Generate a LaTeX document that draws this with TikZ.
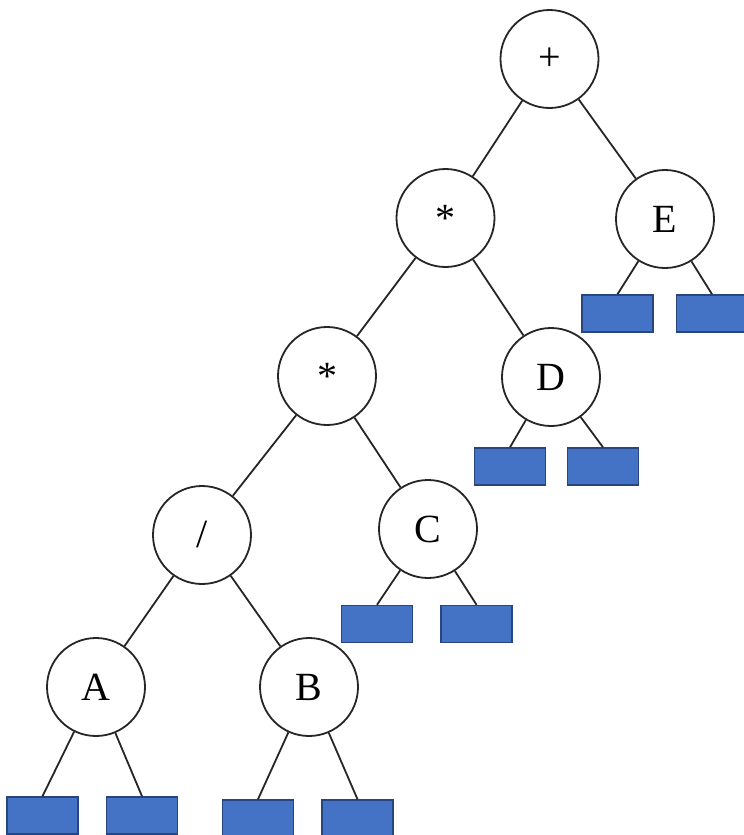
\documentclass[tikz,border=0pt]{standalone}
\usepackage{fontspec}
\setmainfont{Liberation Serif}
\definecolor{leafblue}{RGB}{68,114,196}
\definecolor{leafedge}{RGB}{40,70,125}
\begin{document}
\begin{tikzpicture}[x=1pt,y=-1pt,
  opnode/.style={circle,draw=black!85,line width=1.8pt,minimum size=98pt,inner sep=0pt,font=\fontsize{40}{40}\selectfont},
  leaf/.style={rectangle,draw=leafedge,fill=leafblue,line width=1.5pt,minimum width=71pt,minimum height=37pt,inner sep=0pt},
  edge/.style={draw=black!85,line width=1.8pt}]
\clip (0,0) rectangle (744,835);
\fill[white] (0,0) rectangle (744,835);
% operator and operand nodes
\node[opnode] (plus) at (549.5,59) {+};
\node[opnode] (mul1) at (445.5,218) {\raisebox{-9pt}{*}};
\node[opnode] (E) at (665,219) {E};
\node[opnode] (mul2) at (327,376) {\raisebox{-9pt}{*}};
\node[opnode] (D) at (551,377) {D};
\node[opnode] (div) at (202,535) {/};
\node[opnode] (C) at (428,529) {C};
\node[opnode] (A) at (96,687) {A};
\node[opnode] (B) at (309,687) {B};
% leaves
\node[leaf] (E1) at (617.5,313.5) {};
\node[leaf] (E2) at (712,313.5) {};
\node[leaf] (D1) at (510,466.5) {};
\node[leaf] (D2) at (603,466.5) {};
\node[leaf] (C1) at (377,624) {};
\node[leaf] (C2) at (476.5,624) {};
\node[leaf] (A1) at (42.5,815.5) {};
\node[leaf] (A2) at (142,815.5) {};
\node[leaf] (B1) at (258,818.5) {};
\node[leaf] (B2) at (357.5,818.5) {};
% edges
\draw[edge] (plus) -- (mul1);
\draw[edge] (plus) -- (E);
\draw[edge] (mul1) -- (mul2);
\draw[edge] (mul1) -- (D);
\draw[edge] (mul2) -- (div);
\draw[edge] (mul2) -- (C);
\draw[edge] (div) -- (A);
\draw[edge] (div) -- (B);
\draw[edge] (E) -- (E1.north);
\draw[edge] (E) -- (E2.north);
\draw[edge] (D) -- (D1.north);
\draw[edge] (D) -- (D2.north);
\draw[edge] (C) -- (C1.north);
\draw[edge] (C) -- (C2.north);
\draw[edge] (A) -- (A1.north);
\draw[edge] (A) -- (A2.north);
\draw[edge] (B) -- (B1.north);
\draw[edge] (B) -- (B2.north);
\end{tikzpicture}
\end{document}
